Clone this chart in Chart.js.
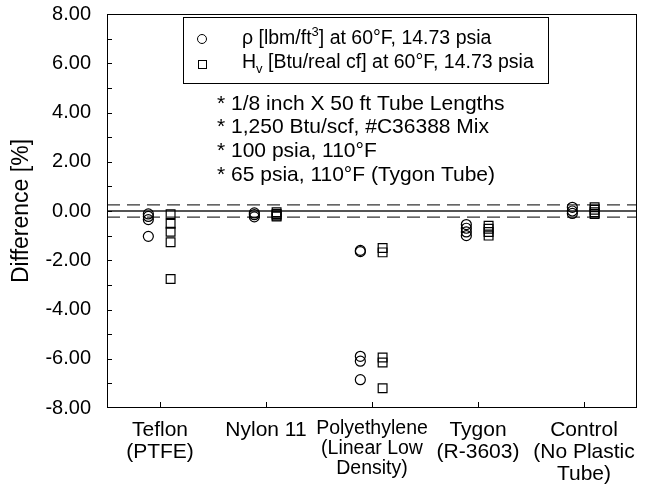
<!DOCTYPE html>
<html>
<head>
<meta charset="utf-8">
<script src="https://cdn.jsdelivr.net/npm/chart.js@4.4.1/dist/chart.umd.min.js"></script>
<style>
  html, body { margin: 0; padding: 0; background: #ffffff; }
  #wrap { width: 646px; height: 485px; }
</style>
</head>
<body>
<div id="wrap"><canvas id="c" width="646" height="485"></canvas></div>
<script>
// Tube materials along the x axis (multi-line labels)
const categories = [
  ['Teflon', '(PTFE)'],
  ['Nylon 11'],
  ['Polyethylene', '(Linear Low', 'Density)'],
  ['Tygon', '(R-3603)'],
  ['Control', '(No Plastic', 'Tube)']
];

// Density difference [%] per material
const densityDiff = [
  [-0.12, -0.22, -0.35, -1.03],
  [-0.08, -0.15, -0.24],
  [-1.6, -1.65, -5.9, -6.1, -6.85],
  [-0.55, -0.7, -0.85, -1.0],
  [0.15, 0.0, -0.1]
];

// Heating value difference [%] per material
const heatingValueDiff = [
  [-0.13, -0.52, -0.84, -1.27, -2.76],
  [-0.05, -0.12, -0.18, -0.22],
  [-1.5, -1.68, -5.95, -6.15, -7.2],
  [-0.6, -0.72, -0.85, -1.0],
  [0.15, 0.05, -0.05, -0.12]
];

// Reference band: zero line and +/- 0.25 % limits
const zeroLevel = [0];
const limitLevels = [0.25, -0.25];

const yMin = -8, yMax = 8, yStep = 2;

const noteLines = [
  '* 1/8 inch X 50 ft Tube Lengths',
  '* 1,250 Btu/scf, #C36388 Mix',
  '* 100 psia, 110\u00B0F',
  '* 65 psia, 110\u00B0F (Tygon Tube)'
];

const FONT = '"Liberation Sans", Arial, Helvetica, sans-serif';
const CIRCLE_SHIFT = -0.11;
const SQUARE_SHIFT = 0.10;

function pointsFor(groups, shift) {
  const pts = [];
  groups.forEach((vals, i) => vals.forEach(v => pts.push({ x: i + 1 + shift, y: v })));
  return pts;
}

function levelLine(level) {
  return [{ x: 0.5, y: level }, { x: categories.length + 0.5, y: level }];
}

function noEdgePadding(s) {
  s.paddingTop = 0; s.paddingBottom = 0; s.paddingLeft = 0; s.paddingRight = 0;
}

const datasets = [
  {
    type: 'scatter',
    label: 'density',
    data: pointsFor(densityDiff, CIRCLE_SHIFT),
    pointStyle: 'circle',
    pointRadius: 5,
    borderColor: '#000',
    borderWidth: 1.2,
    backgroundColor: 'rgba(0,0,0,0)',
    order: 1
  },
  {
    type: 'scatter',
    label: 'heating value',
    data: pointsFor(heatingValueDiff, SQUARE_SHIFT),
    pointStyle: 'rect',
    pointRadius: 6.2,
    borderColor: '#000',
    borderWidth: 1.2,
    backgroundColor: 'rgba(0,0,0,0)',
    order: 1
  }
];

zeroLevel.forEach(l => datasets.push({
  type: 'line', data: levelLine(l), borderColor: '#555', borderWidth: 2,
  pointRadius: 0, fill: false, order: 2
}));
limitLevels.forEach(l => datasets.push({
  type: 'line', data: levelLine(l), borderColor: '#333', borderWidth: 1.4,
  borderDash: [13, 7], pointRadius: 0, fill: false, order: 2
}));

// Frame, inward tick marks, legend box and notes
const decorations = {
  id: 'decorations',
  afterDraw(chart) {
    const { ctx, chartArea: a, scales } = chart;
    const ys = scales.y, xs = scales.x;
    ctx.save();
    ctx.strokeStyle = '#000';
    ctx.lineWidth = 1;
    ctx.strokeRect(Math.round(a.left) + 0.5, Math.round(a.top) + 0.5,
                   Math.round(a.right - a.left) - 1, Math.round(a.bottom - a.top) - 1);

    ctx.beginPath();
    for (let v = yMin + 1; v < yMax; v += 1) {
      const y = Math.round(ys.getPixelForValue(v)) + 0.5;
      ctx.moveTo(a.left, y); ctx.lineTo(a.left + 5, y);
    }
    categories.forEach((_, i) => {
      const x = Math.round(xs.getPixelForValue(i + 1)) + 0.5;
      ctx.moveTo(x, a.bottom); ctx.lineTo(x, a.bottom - 6);
    });
    ctx.stroke();

    // legend box
    ctx.strokeRect(183.5, 17.5, 365, 66);
    ctx.beginPath();
    ctx.arc(202, 39, 4.5, 0, Math.PI * 2);
    ctx.stroke();
    ctx.strokeRect(198.5, 60.5, 8, 8);

    ctx.fillStyle = '#000';
    ctx.textBaseline = 'middle';
    ctx.textAlign = 'left';
    const big = '19.5px ' + FONT, small = '13px ' + FONT;
    let x = 242;
    ctx.font = big;
    let t = '\u03C1 [lbm/ft';
    ctx.fillText(t, x, 39); x += ctx.measureText(t).width;
    ctx.font = small; ctx.fillText('3', x, 32); x += ctx.measureText('3').width;
    ctx.font = big; ctx.fillText('] at 60\u00B0F, 14.73 psia', x, 39);

    x = 242;
    ctx.font = big; ctx.fillText('H', x, 63); x += ctx.measureText('H').width;
    ctx.font = small; ctx.fillText('v', x, 69); x += ctx.measureText('v').width;
    ctx.font = big; ctx.fillText(' [Btu/real cf] at 60\u00B0F, 14.73 psia', x, 63);

    ctx.font = '21px ' + FONT;
    noteLines.forEach((line, i) => ctx.fillText(line, 217, 104 + i * 23.7));
    ctx.restore();
  }
};

new Chart(document.getElementById('c'), {
  type: 'scatter',
  data: { datasets },
  options: {
    responsive: false,
    animation: false,
    devicePixelRatio: 1,
    layout: { padding: { top: 14, right: 9, left: 0, bottom: 0 } },
    plugins: { legend: { display: false }, tooltip: { enabled: false } },
    scales: {
      x: {
        type: 'linear',
        min: 0.5,
        max: categories.length + 0.5,
        afterBuildTicks: s => { s.ticks = categories.map((_, i) => ({ value: i + 1 })); },
        afterFit: s => { s.height = 77; noEdgePadding(s); },
        grid: { display: false, drawTicks: false },
        border: { display: false },
        ticks: {
          autoSkip: false,
          maxRotation: 0,
          padding: 11,
          color: '#000',
          callback: v => categories[v - 1],
          font: c => (c.index === 2
            ? { family: FONT, size: 19.5, lineHeight: '20px' }
            : { family: FONT, size: 21, lineHeight: '22px' })
        }
      },
      y: {
        min: yMin,
        max: yMax,
        afterFit: s => { s.width = 107; noEdgePadding(s); },
        grid: { display: false, drawTicks: false },
        border: { display: false },
        ticks: {
          stepSize: yStep,
          padding: 16,
          color: '#000',
          font: { family: FONT, size: 20 },
          callback: v => v.toFixed(2)
        },
        title: {
          display: true,
          text: 'Difference [%]',
          color: '#000',
          font: { family: FONT, size: 23 },
          padding: { top: 8, bottom: 0 }
        }
      }
    }
  },
  plugins: [decorations]
});
</script>
</body>
</html>
